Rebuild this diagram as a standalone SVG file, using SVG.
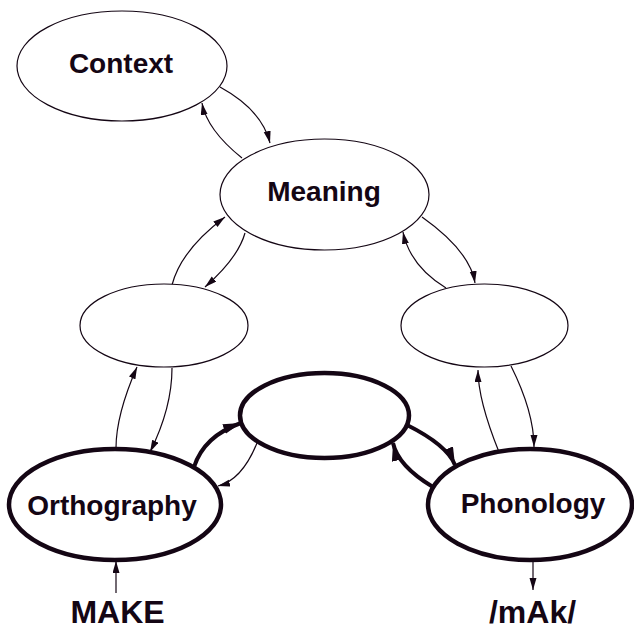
<svg xmlns="http://www.w3.org/2000/svg" width="634" height="630" viewBox="0 0 634 630">
<style>
.n{fill:#fff;stroke:#140614}
.thin{stroke-width:1.2}
.bold{stroke-width:4.5}
.t{font-family:"Liberation Sans",Arial,sans-serif;font-weight:bold;fill:#140614;text-anchor:middle}
.lbl{font-size:28px}
.io{font-size:32px}
.c{fill:none;stroke:#140614}
.ct{stroke-width:1.2;marker-end:url(#ah)}
.cb{stroke-width:4;marker-end:url(#ahb)}
</style>
<defs>
<marker id="ah" markerUnits="userSpaceOnUse" markerWidth="13" markerHeight="8" refX="12" refY="3.5" orient="auto">
<path d="M0,0 L12,3.5 L0,7 z" fill="#140614"/>
</marker>
<marker id="ahb" markerUnits="userSpaceOnUse" markerWidth="19" markerHeight="12" refX="18" refY="5" orient="auto">
<path d="M0,0 L18,5 L0,10 z" fill="#140614"/>
</marker>
</defs>
<g id="connectors">
<path class="c ct" d="M220,87 Q262,110 270,143"/>
<path class="c ct" d="M242,158 Q207,130 202,103"/>
<path class="c ct" d="M172,285 Q181,250 225,217"/>
<path class="c ct" d="M245,233 Q238,258 205,287"/>
<path class="c ct" d="M422,217 Q470,251 475,283"/>
<path class="c ct" d="M446,288 Q410,266 403,232"/>
<path class="c ct" d="M116,448 Q116,415 137,367"/>
<path class="c ct" d="M172,368 Q172,408 150,452"/>
<path class="c cb" d="M194,467 Q204,436 241,423"/>
<path class="c ct" d="M257,443 Q242,480 218,486"/>
<path class="c cb" d="M407,425 Q447,445 455,465"/>
<path class="c cb" d="M433,487 Q398,466 393,443"/>
<path class="c ct" d="M499,452 Q478,400 478,370"/>
<path class="c ct" d="M511,366 Q534,412 534,447"/>
<path class="c ct" d="M116,593 L116,561"/>
<path class="c ct" d="M533,561 L533,590"/>
</g>
<g id="context">
<ellipse class="n thin" cx="122" cy="66" rx="105" ry="55"/>
<text class="t lbl" x="121" y="73">Context</text>
</g>
<g id="meaning">
<ellipse class="n thin" cx="324.5" cy="194.5" rx="104.5" ry="55.5"/>
<text class="t lbl" x="324" y="201">Meaning</text>
</g>
<g id="hidden-left">
<ellipse class="n thin" cx="164" cy="325.5" rx="84" ry="41.5"/>
</g>
<g id="hidden-right">
<ellipse class="n thin" cx="484.5" cy="325.5" rx="83.5" ry="41.5"/>
</g>
<g id="hidden-middle">
<ellipse class="n bold" cx="324.5" cy="415.5" rx="84.5" ry="42.5"/>
</g>
<g id="orthography">
<ellipse class="n bold" cx="115" cy="504.5" rx="106" ry="55.5"/>
<text class="t lbl" x="112" y="515">Orthography</text>
</g>
<g id="phonology">
<ellipse class="n bold" cx="530" cy="504.5" rx="102" ry="55.5"/>
<text class="t lbl" x="533" y="513">Phonology</text>
</g>
<g id="input">
<text class="t io" x="117.5" y="623">MAKE</text>
</g>
<g id="output">
<text class="t io" x="532.5" y="623">/mAk/</text>
</g>
</svg>
